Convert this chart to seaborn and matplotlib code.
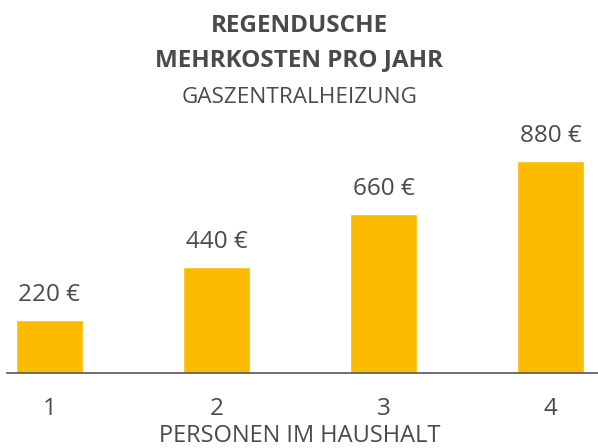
import matplotlib
matplotlib.use("Agg")
import matplotlib.pyplot as plt
import seaborn as sns
import pandas as pd

personen = ["1", "2", "3", "4"]
kosten = [220, 440, 660, 880]
wert_labels = ["220 €", "440 €", "660 €", "880 €"]

title_lines = ["REGENDUSCHE", "MEHRKOSTEN PRO JAHR"]
subtitle = "GASZENTRALHEIZUNG"
xlabel = "PERSONEN IM HAUSHALT"

sns.set_theme(style="white")
plt.rcParams['font.family'] = ['Open Sans', 'DejaVu Sans']

TEXT = "#4a4a4a"
BAR = "#FABB00"

df = pd.DataFrame({"personen": personen, "kosten": kosten})

W, H = 598, 448
fig = plt.figure(figsize=(W / 100, H / 100), dpi=100)
ax = fig.add_axes([7 / W, 75 / H, 1 - 7 / W, 241 / H])

sns.barplot(data=df, x="personen", y="kosten", color=BAR, width=0.4,
            saturation=1, ax=ax)

ax.set_xlim(-0.254, 3.284)
ax.set_ylim(0, 1000)
ax.bar_label(ax.containers[0], labels=wert_labels, padding=9,
             fontsize=17.5, color=TEXT)

for s in ["top", "right", "left"]:
    ax.spines[s].set_visible(False)
ax.spines["bottom"].set_color("#555555")
ax.spines["bottom"].set_linewidth(1.2)
ax.set_yticks([])
ax.set_ylabel("")
ax.tick_params(axis="x", length=0, pad=17, labelsize=17.5, labelcolor=TEXT)
ax.set_xlabel(xlabel, fontsize=17, color=TEXT)
ax.xaxis.label.set_verticalalignment("baseline")
ax.xaxis.set_label_coords(300 / W, 1 - 441.5 / H, transform=fig.transFigure)

fig.text(299 / W, 1 - 32 / H, title_lines[0], ha="center", va="baseline",
         fontsize=17.5, fontweight="bold", color=TEXT)
fig.text(299 / W, 1 - 66 / H, title_lines[1], ha="center", va="baseline",
         fontsize=17.5, fontweight="bold", color=TEXT)
fig.text(300 / W, 1 - 103 / H, subtitle, ha="center", va="baseline",
         fontsize=16.2, color=TEXT)

fig.savefig("out.png", dpi=100)
